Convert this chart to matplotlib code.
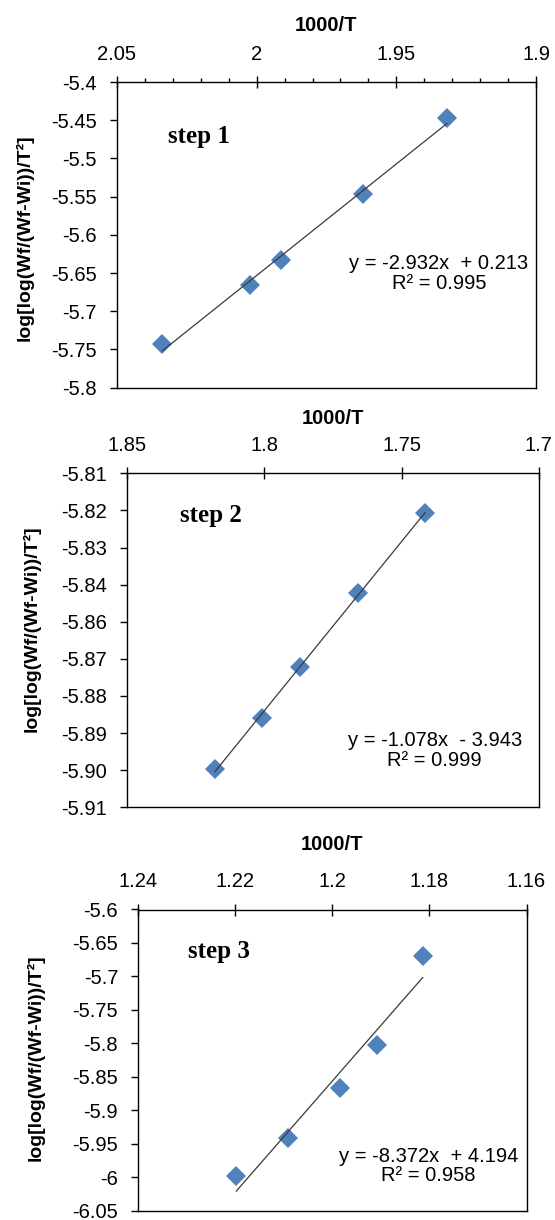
import matplotlib
matplotlib.use('Agg')
import matplotlib.pyplot as plt
import numpy as np
from matplotlib.ticker import FormatStrFormatter, MultipleLocator

plt.rcParams['font.family'] = ['Liberation Sans', 'DejaVu Sans']

# values (x = 1000/T, y = log[log(Wf/(Wf-Wi))/T^2])
step1_x = [2.0336, 2.0023, 1.9911, 1.9620, 1.9320]
step1_y = [-5.743, -5.666, -5.633, -5.546, -5.4475]
step2_x = [1.8180, 1.8010, 1.7870, 1.7660, 1.7415]
step2_y = [-5.8986, -5.8832, -5.8679, -5.8459, -5.8220]
step3_x = [1.2198, 1.2091, 1.1984, 1.1909, 1.1814]
step3_y = [-5.998, -5.941, -5.867, -5.802, -5.6695]

step_names = ['step 1', 'step 2', 'step 3']
equations = ['y = -2.932x  + 0.213\nR² = 0.995',
             'y = -1.078x  - 3.943\nR² = 0.999',
             'y = -8.372x  + 4.194\nR² = 0.958']

xticks1 = [2.05, 2.0, 1.95, 1.9]
yticks1 = [-5.8, -5.75, -5.7, -5.65, -5.6, -5.55, -5.5, -5.45, -5.4]
xticks2 = [1.85, 1.8, 1.75, 1.7]
ylabels2 = ['-5.91', '-5.90', '-5.89', '-5.88', '-5.87', '-5.86', '-5.84', '-5.83', '-5.82', '-5.81']
xticks3 = [1.24, 1.22, 1.2, 1.18, 1.16]
yticks3 = [-6.05, -6.0, -5.95, -5.9, -5.85, -5.8, -5.75, -5.7, -5.65, -5.6]

W, H = 555, 1220
fig = plt.figure(figsize=(W / 100, H / 100), dpi=100, facecolor='white')


def px_axes(left, right, top, bottom):
    return fig.add_axes([left / W, 1 - bottom / H, (right - left) / W, (bottom - top) / H])


def draw_panel(ax, xs, ys, xticks, name, eq, text_pos, eq_pos, ylab_pos, xlab_y):
    xs = np.array(xs)
    ys = np.array(ys)
    k, b = np.polyfit(xs, ys, 1)
    xl = np.array([xs.min(), xs.max()])
    ax.plot(xl, k * xl + b, color='#3a3a3a', lw=0.9, zorder=3)
    ax.plot(xs, ys, 'D', color='#4F81BD', ms=10, mew=0, zorder=2)

    ax.set_xlim(xticks[0], xticks[-1])
    ax.set_xticks(xticks)
    ax.xaxis.set_major_formatter(FormatStrFormatter('%g'))
    ax.xaxis.tick_top()
    ax.xaxis.set_label_position('top')
    ax.tick_params(axis='x', which='major', direction='inout', length=8, width=1,
                   pad=9, labelsize=14.5)
    ax.tick_params(axis='y', which='major', direction='out', length=5, width=1,
                   pad=9.5, labelsize=14.5)
    for s in ax.spines.values():
        s.set_linewidth(1.0)

    ax.set_xlabel('1000/T', fontsize=14.5, fontweight='bold')
    ax.xaxis.set_label_coords(0.5, xlab_y)
    ax.set_ylabel('log[log(Wf/(Wf-Wi))/T²]', fontsize=14, fontweight='bold')
    ax.yaxis.set_label_coords(ylab_pos[0], ylab_pos[1])

    ax.text(text_pos[0], text_pos[1], name, transform=ax.transAxes,
            family='Liberation Serif', fontweight='bold', fontsize=18,
            ha='left', va='center')
    ax.text(eq_pos[0], eq_pos[1], eq, transform=ax.transAxes, fontsize=14.5,
            ha='center', va='center', multialignment='center', linespacing=1.05)


# step 1
ax1 = px_axes(116.6, 536.4, 82, 387.7)
draw_panel(ax1, step1_x, step1_y, xticks1, step_names[0], equations[0],
           (0.122, 0.823), (0.768, 0.374), (-0.198, 0.49), 1.166)
ax1.set_ylim(yticks1[0], yticks1[-1])
ax1.set_yticks(yticks1)
ax1.yaxis.set_major_formatter(FormatStrFormatter('%g'))
ax1.xaxis.set_minor_locator(MultipleLocator(0.01))
ax1.tick_params(axis='x', which='minor', direction='out', length=3, width=1)

# step 2
ax2 = px_axes(127.2, 538.9, 473.3, 807.3)
draw_panel(ax2, step2_x, step2_y, xticks2, step_names[1], equations[1],
           (0.129, 0.875), (0.747, 0.169), (-0.21, 0.534), 1.149)
ax2.set_ylim(-5.91, -5.81)
ax2.set_yticks(np.linspace(-5.91, -5.81, len(ylabels2)))
ax2.set_yticklabels(ylabels2)

# step 3
ax3 = px_axes(138.3, 526.5, 909.5, 1210.7)
draw_panel(ax3, step3_x, step3_y, xticks3, step_names[2], equations[2],
           (0.129, 0.859), (0.747, 0.148), (-0.242, 0.507), 1.197)
ax3.set_ylim(yticks3[0], yticks3[-1])
ax3.set_yticks(yticks3)
ax3.yaxis.set_major_formatter(FormatStrFormatter('%g'))

fig.savefig('out.png', dpi=100, facecolor='white')
